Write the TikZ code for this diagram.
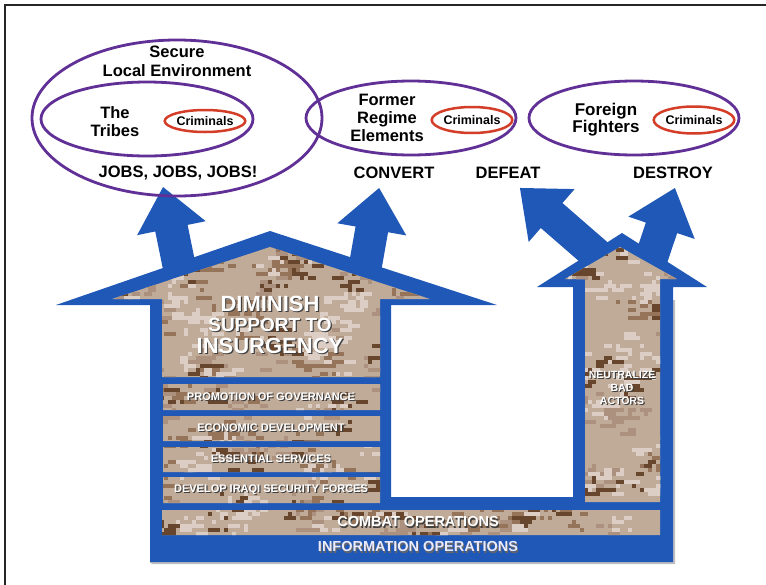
\documentclass[tikz,border=0pt]{standalone}
\usepackage{fontspec}
\setmainfont{Liberation Sans}
\usetikzlibrary{shapes.geometric}
\definecolor{armyblue}{RGB}{31,88,182}
\definecolor{ovpurple}{RGB}{96,48,150}
\definecolor{ovred}{RGB}{212,62,40}
\definecolor{camobase}{RGB}{192,170,152}
\definecolor{camoA}{RGB}{104,70,46}
\definecolor{camoB}{RGB}{150,116,90}
\definecolor{camoC}{RGB}{220,206,196}
\definecolor{camoD}{RGB}{172,146,126}
\newcommand\fsz[1]{\fontsize{#1}{#1}\selectfont}
\newcommand\fszl[2]{\fontsize{#1}{#2}\selectfont}
\tikzset{
  oval/.style={ellipse, draw=ovpurple, line width=2.8pt, inner sep=0pt},
  crim/.style={ellipse, draw=ovred, line width=2.5pt, inner sep=0pt,
    font=\bfseries\fsz{12.5}},
  toptxt/.style={font=\bfseries\fsz{16.5}, align=center, inner sep=0pt, text=black},
  shd/.style={text=black!75, inner sep=0pt, align=center},
  emb/.style={text=white, inner sep=0pt, align=center},
  bigarrow/.pic={
    \fill[armyblue] (-16.5,0) -- (-16.5,{-#1+42}) -- (-35,{-#1+42}) -- (0,-#1)
      -- (35,{-#1+42}) -- (16.5,{-#1+42}) -- (16.5,0) -- cycle;
  }
}
\newcommand\embtext[4]{%
  \node[shd, font=\bfseries\fsz{#3}] (#1s) at ([shift={(1.2,1.2)}]#2) {#4};
  \node[emb, font=\bfseries\fsz{#3}] (#1) at (#2) {#4};}
\begin{document}
\begin{tikzpicture}[x=1pt, y=-1pt]
\useasboundingbox (0,0) rectangle (766,584);
\fill[white] (0,0) rectangle (766,584);
% frame
\draw[line width=2pt, black!85] (5,590) -- (5,5) -- (770,5);

% blue arrows
\pic[rotate=11.5] at (183,285) {bigarrow=100};
\pic[rotate=-10] at (362,285) {bigarrow=98.5};
\pic[rotate=49] at (612,268) {bigarrow=122};
\pic[rotate=-18.6] at (648,268) {bigarrow=84.4};

% main blue shape with shadow
\fill[black!25] (152,564) -- (675,564) -- (675,300) -- (673,300) -- (673,562) -- (150,562) -- cycle;
\fill[armyblue] (150,562) -- (150,305) -- (56,305) -- (270,231) -- (497,305)
  -- (391,305) -- (391,497) -- (573,497) -- (573,287) -- (537,287) -- (622,233)
  -- (707,287) -- (673,287) -- (673,562) -- cycle;

% camouflage areas
\begin{scope}
  \clip (270,247) -- (112,299) -- (162,299) -- (162,377) -- (380,377) -- (380,299) -- (430,299) -- cycle
        (620,247) -- (565,279) -- (585,279) -- (585,502) -- (660,502) -- (660,279) -- (677,279) -- cycle
        (163,384) rectangle (380,410)
        (163,416) rectangle (380,441)
        (163,447) rectangle (380,472)
        (163,477) rectangle (380,503)
        (162,510) rectangle (660,535);
  \fill[camobase] (100,230) rectangle (700,540);
  \pgfmathsetseed{23}
  \foreach \i in {1,...,330}{
    \pgfmathtruncatemacro\cx{4*random(26,172)}
    \pgfmathtruncatemacro\cy{4*random(60,135)}
    \pgfmathtruncatemacro\cc{random(1,5)}
    \ifcase\cc\or\def\ccol{camoA}\or\def\ccol{camoB}\or\def\ccol{camoC}\or\def\ccol{camoD}\or\def\ccol{camoC}\fi
    \foreach \j in {1,...,6}{
      \pgfmathtruncatemacro\dx{4*random(-3,3)}
      \pgfmathtruncatemacro\dy{4*random(-2,2)}
      \pgfmathtruncatemacro\cw{4*random(1,3)}
      \fill[\ccol] (\cx+\dx,\cy+\dy) rectangle ++(\cw,4);
    }
  }
\end{scope}

% camo texts
\embtext{dim}{270,304}{22}{DIMINISH}
\embtext{sup}{270,325}{19}{SUPPORT TO}
\embtext{ins}{270,346}{22}{INSURGENCY}
\embtext{gov}{271,397}{11}{PROMOTION OF GOVERNANCE}
\embtext{eco}{271,428}{11}{ECONOMIC DEVELOPMENT}
\embtext{ess}{271,459}{11}{ESSENTIAL SERVICES}
\embtext{isf}{271,490}{11}{DEVELOP IRAQI SECURITY FORCES}
\embtext{cmb}{418,522}{14.5}{COMBAT OPERATIONS}
\embtext{neu}{622,375}{10.5}{NEUTRALIZE}
\embtext{bad}{622,388}{10.5}{BAD}
\embtext{act}{622,401}{10.5}{ACTORS}
\node[shd, font=\bfseries\fsz{14.5}, text=black!60] (infs) at (419,548.5) {INFORMATION OPERATIONS};
\node[emb, font=\bfseries\fsz{14.5}, text=white!92!blue] (inf) at (418,547) {INFORMATION OPERATIONS};

% ovals
\node[oval, minimum width=290, minimum height=156] (env) at (177,118) {};
\node[oval, minimum width=212, minimum height=74] (tribes) at (147,119) {};
\node[crim, minimum width=80, minimum height=22] (crim1) at (205,121) {Criminals};
\node[oval, minimum width=210, minimum height=74] (fre) at (411,118) {};
\node[crim, minimum width=80, minimum height=26] (crim2) at (472,120) {Criminals};
\node[oval, minimum width=210, minimum height=74] (ff) at (634,118) {};
\node[crim, minimum width=78, minimum height=27] (crim3) at (694,120) {Criminals};

% top labels
\node[toptxt] (secure) at (177,52) {Secure};
\node[toptxt] (local) at (177,71) {Local Environment};
\node[toptxt, font=\bfseries\fszl{16.5}{17.5}] (thetribes) at (115,121.5) {The\\Tribes};
\node[toptxt, font=\bfseries\fszl{16.5}{18}] (former) at (387,118) {Former\\Regime\\Elements};
\node[toptxt, font=\bfseries\fszl{17}{17.5}] (foreign) at (606,119.5) {Foreign\\Fighters};
\node[toptxt] (jobs) at (178,173) {JOBS, JOBS, JOBS!};
\node[toptxt] (convert) at (394,173) {CONVERT};
\node[toptxt] (defeat) at (508,173) {DEFEAT};
\node[toptxt] (destroy) at (673,173) {DESTROY};
\end{tikzpicture}
\end{document}
